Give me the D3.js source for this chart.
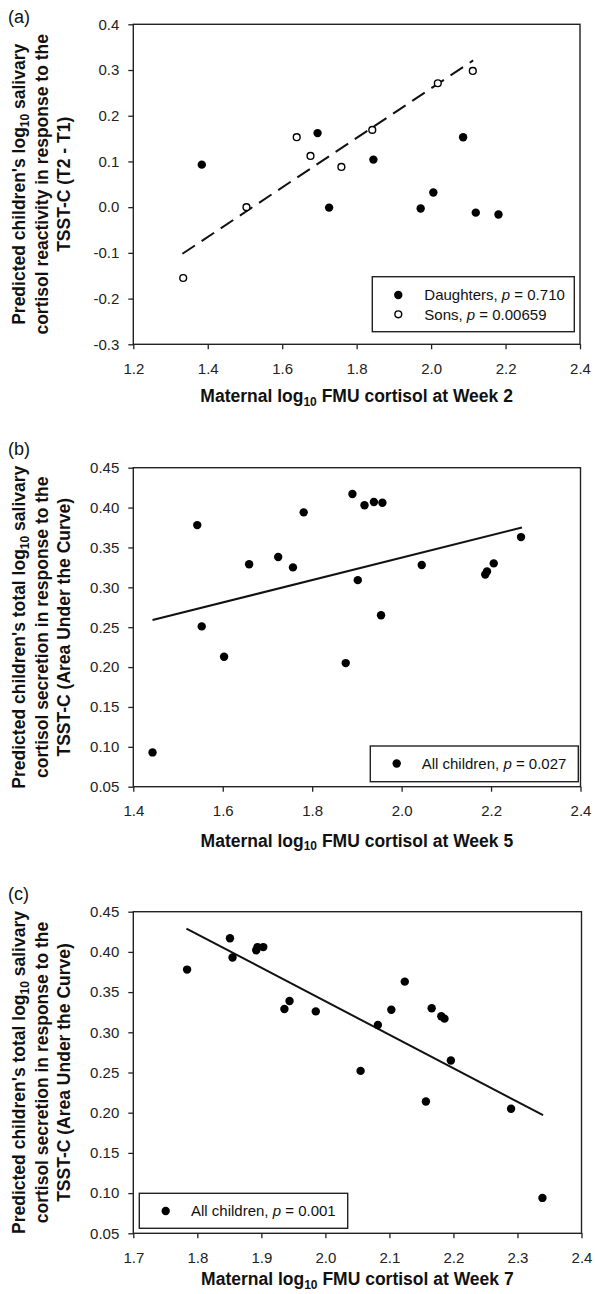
<!DOCTYPE html>
<html>
<head>
<meta charset="utf-8">
<script src="https://cdn.jsdelivr.net/npm/d3@7"></script>
<style>
  body { margin: 0; background: #fff; }
  svg { display: block; }
  text { font-family: "Liberation Sans", Arial, Helvetica, sans-serif; fill: #111; }
</style>
</head>
<body>
<svg id="fig" width="595" height="1294"></svg>
<script>
// ---- panel (a): week 2, daughters vs sons ----
var daughtersX = [1.384, 1.695, 1.726, 1.845, 1.972, 2.006, 2.086, 2.120, 2.181];
var daughtersY = [0.093, 0.162, -0.001, 0.104, -0.003, 0.032, 0.153, -0.012, -0.016];
var sonsX = [1.334, 1.504, 1.639, 1.676, 1.759, 1.842, 2.018, 2.112];
var sonsY = [-0.155, 0.000, 0.153, 0.112, 0.088, 0.169, 0.271, 0.298];
var fitSonsX = [1.332, 2.113];
var fitSonsY = [-0.102, 0.321];
var xTicksA = [1.2, 1.4, 1.6, 1.8, 2.0, 2.2, 2.4];
var yTicksA = [-0.3, -0.2, -0.1, 0.0, 0.1, 0.2, 0.3, 0.4];

// ---- panel (b): week 5, all children ----
var week5X = [1.443, 1.543, 1.553, 1.603, 1.659, 1.724, 1.757, 1.781, 1.875, 1.890,
              1.902, 1.917, 1.938, 1.957, 1.954, 2.045, 2.187, 2.191, 2.206, 2.267];
var week5Y = [0.093, 0.378, 0.251, 0.213, 0.329, 0.338, 0.325, 0.394, 0.205, 0.417,
              0.309, 0.403, 0.407, 0.406, 0.265, 0.328, 0.316, 0.320, 0.330, 0.363];
var fit5X = [1.443, 2.269];
var fit5Y = [0.259, 0.375];
var xTicksB = [1.4, 1.6, 1.8, 2.0, 2.2, 2.4];

// ---- panel (c): week 7, all children ----
var week7X = [1.784, 1.851, 1.855, 1.892, 1.894, 1.903, 1.936, 1.944, 1.985, 2.055,
              2.082, 2.103, 2.124, 2.157, 2.166, 2.181, 2.186, 2.196, 2.290, 2.339];
var week7Y = [0.378, 0.417, 0.393, 0.402, 0.406, 0.406, 0.329, 0.339, 0.326, 0.252,
              0.309, 0.328, 0.363, 0.214, 0.330, 0.320, 0.317, 0.265, 0.205, 0.094];
var fit7X = [1.783, 2.340];
var fit7Y = [0.429, 0.197];
var xTicksC = [1.7, 1.8, 1.9, 2.0, 2.1, 2.2, 2.3, 2.4];
var yTicksBC = [0.05, 0.10, 0.15, 0.20, 0.25, 0.30, 0.35, 0.40, 0.45];

var svg = d3.select("#fig");

function zip(xs, ys) { return xs.map(function (x, i) { return [x, ys[i]]; }); }

function drawPanel(p) {
  var x = d3.scaleLinear().domain(p.xDomain).range([p.left, p.right]);
  var y = d3.scaleLinear().domain(p.yDomain).range([p.bottom, p.top]);
  var g = svg.append("g");

  // axes, ticks outward
  var yAxis = d3.axisLeft(y).tickValues(p.yTicks).tickSize(5).tickPadding(9)
    .tickFormat(function (d) { return d.toFixed(p.yDec); });
  var xAxis = d3.axisBottom(x).tickValues(p.xTicks).tickSize(5).tickPadding(14)
    .tickFormat(function (d) { return d.toFixed(1); });
  [[yAxis, "translate(" + p.left + ",0)"], [xAxis, "translate(0," + p.bottom + ")"]].forEach(function (a) {
    var ax = g.append("g").attr("transform", a[1]).call(a[0]);
    ax.select(".domain").remove();
    ax.selectAll("line").attr("stroke", "#222").attr("stroke-width", 1.3);
    ax.selectAll("text").attr("font-size", 15).attr("font-family", null).style("fill", "#222");
  });

  g.append("rect").attr("x", p.left).attr("y", p.top)
    .attr("width", p.right - p.left).attr("height", p.bottom - p.top)
    .attr("fill", "none").attr("stroke", "#222").attr("stroke-width", 1.4);

  // fit line
  var line = d3.line().x(function (d) { return x(d[0]); }).y(function (d) { return y(d[1]); });
  p.fits.forEach(function (f) {
    g.append("path").datum(zip(f.x, f.y)).attr("d", line)
      .attr("fill", "none").attr("stroke", "#111").attr("stroke-width", 2)
      .attr("stroke-dasharray", f.dash || null);
  });

  // points
  p.series.forEach(function (s) {
    g.selectAll(null).data(zip(s.x, s.y)).enter().append("circle")
      .attr("cx", function (d) { return x(d[0]); })
      .attr("cy", function (d) { return y(d[1]); })
      .attr("r", s.open ? 3.4 : 4.2)
      .attr("fill", s.open ? "#fff" : "#000")
      .attr("stroke", "#000").attr("stroke-width", s.open ? 1.4 : 0);
  });

  // legend
  var L = p.legend;
  g.append("rect").attr("x", L.x).attr("y", L.y).attr("width", L.w).attr("height", L.h)
    .attr("fill", "#fff").attr("stroke", "#222").attr("stroke-width", 1.4);
  p.series.forEach(function (s, i) {
    var cy = L.y + L.first + i * 19.3;
    g.append("circle").attr("cx", L.x + L.mark).attr("cy", cy)
      .attr("r", s.open ? 3.4 : 4.2).attr("fill", s.open ? "#fff" : "#000")
      .attr("stroke", "#000").attr("stroke-width", s.open ? 1.4 : 0);
    var t = g.append("text").attr("x", L.x + L.text).attr("y", cy + 5.3).attr("font-size", 15);
    t.append("tspan").text(s.name + ", ");
    t.append("tspan").attr("font-style", "italic").text("p");
    t.append("tspan").text(" = " + s.p);
  });

  // panel letter
  g.append("text").attr("x", 8).attr("y", p.letterY).attr("font-size", 18).text(p.letter);

  // y title (rotated, three lines)
  var cy = (p.top + p.bottom) / 2;
  var yt = g.append("g").attr("transform", "translate(0," + cy + ") rotate(-90)");
  p.yTitle.forEach(function (ln, i) {
    var t = yt.append("text").attr("x", 0).attr("y", 25 + i * 22.5)
      .attr("text-anchor", "middle").attr("font-size", 17.5).attr("font-weight", "bold");
    if (ln.length === 1) {
      t.text(ln[0]);
    } else {
      t.append("tspan").text(ln[0]);
      t.append("tspan").attr("font-size", 12).attr("dy", 4).text("10");
      t.append("tspan").attr("dy", -4).text(ln[1]);
    }
  });

  // x title
  var xt = g.append("text").attr("x", (p.left + p.right) / 2).attr("y", p.xTitleY)
    .attr("text-anchor", "middle").attr("font-size", 17.5).attr("font-weight", "bold");
  xt.append("tspan").text("Maternal log");
  xt.append("tspan").attr("font-size", 12).attr("dy", 3.5).text("10");
  xt.append("tspan").attr("dy", -3.5).text(" FMU cortisol at Week " + p.week);
}

drawPanel({
  letter: "(a)", letterY: 23, week: 2,
  left: 133.3, right: 580, top: 24.3, bottom: 344.3,
  xDomain: [1.2, 2.4], yDomain: [-0.3, 0.4], xTicks: xTicksA, yTicks: yTicksA, yDec: 1,
  xTitleY: 402,
  yTitle: [["Predicted children's log", " salivary"], ["cortisol reactivity in response to the"], ["TSST-C (T2 - T1)"]],
  series: [
    { name: "Daughters", p: "0.710", x: daughtersX, y: daughtersY, open: false },
    { name: "Sons", p: "0.00659", x: sonsX, y: sonsY, open: true }
  ],
  fits: [{ x: fitSonsX, y: fitSonsY, dash: "15,8" }],
  legend: { x: 372.3, y: 276.7, w: 202, h: 55, first: 18.3, mark: 26, text: 52 }
});

drawPanel({
  letter: "(b)", letterY: 454.5, week: 5,
  left: 133.3, right: 580.5, top: 467.7, bottom: 786.7,
  xDomain: [1.4, 2.4], yDomain: [0.05, 0.45], xTicks: xTicksB, yTicks: yTicksBC, yDec: 2,
  xTitleY: 846.5,
  yTitle: [["Predicted children's total log", " salivary"], ["cortisol secretion in response to the"], ["TSST-C (Area Under the Curve)"]],
  series: [{ name: "All children", p: "0.027", x: week5X, y: week5Y, open: false }],
  fits: [{ x: fit5X, y: fit5Y }],
  legend: { x: 370.3, y: 746, w: 208, h: 35.7, first: 17.5, mark: 26.4, text: 51.4 }
});

drawPanel({
  letter: "(c)", letterY: 899.5, week: 7,
  left: 133.3, right: 581.5, top: 911.7, bottom: 1233.3,
  xDomain: [1.7, 2.4], yDomain: [0.05, 0.45], xTicks: xTicksC, yTicks: yTicksBC, yDec: 2,
  xTitleY: 1285,
  yTitle: [["Predicted children's total log", " salivary"], ["cortisol secretion in response to the"], ["TSST-C (Area Under the Curve)"]],
  series: [{ name: "All children", p: "0.001", x: week7X, y: week7Y, open: false }],
  fits: [{ x: fit7X, y: fit7Y }],
  legend: { x: 139.3, y: 1193.3, w: 208.4, h: 35, first: 17.7, mark: 26.4, text: 51.7 }
});
</script>
</body>
</html>
